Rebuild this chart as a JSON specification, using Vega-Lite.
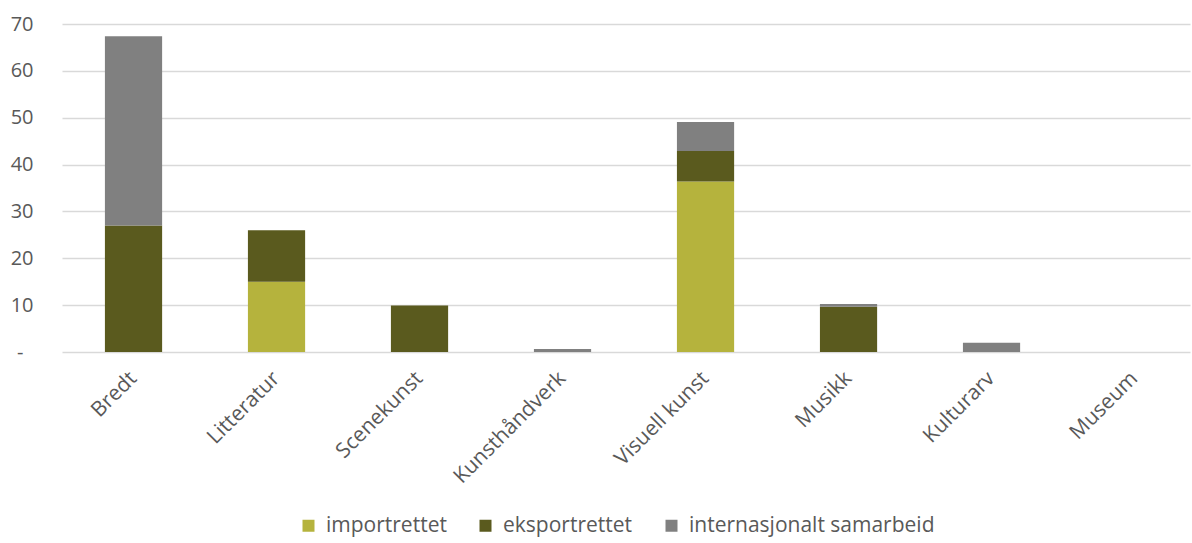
{
  "$schema": "https://vega.github.io/schema/vega-lite/v6.json",
  "autosize": "none",
  "width": 1128,
  "height": 328,
  "padding": {"left": 62, "top": 24, "right": 2, "bottom": 191},
  "background": "white",
  "data": {
    "values": [
      {"kategori": "Bredt", "type": "importrettet", "o": 1, "verdi": 0},
      {"kategori": "Bredt", "type": "eksportrettet", "o": 2, "verdi": 27},
      {"kategori": "Bredt", "type": "internasjonalt samarbeid", "o": 3, "verdi": 40.4},
      {"kategori": "Litteratur", "type": "importrettet", "o": 1, "verdi": 15},
      {"kategori": "Litteratur", "type": "eksportrettet", "o": 2, "verdi": 11},
      {"kategori": "Litteratur", "type": "internasjonalt samarbeid", "o": 3, "verdi": 0},
      {"kategori": "Scenekunst", "type": "importrettet", "o": 1, "verdi": 0},
      {"kategori": "Scenekunst", "type": "eksportrettet", "o": 2, "verdi": 9.9},
      {"kategori": "Scenekunst", "type": "internasjonalt samarbeid", "o": 3, "verdi": 0},
      {"kategori": "Kunsthåndverk", "type": "importrettet", "o": 1, "verdi": 0},
      {"kategori": "Kunsthåndverk", "type": "eksportrettet", "o": 2, "verdi": 0},
      {"kategori": "Kunsthåndverk", "type": "internasjonalt samarbeid", "o": 3, "verdi": 0.65},
      {"kategori": "Visuell kunst", "type": "importrettet", "o": 1, "verdi": 36.4},
      {"kategori": "Visuell kunst", "type": "eksportrettet", "o": 2, "verdi": 6.5},
      {"kategori": "Visuell kunst", "type": "internasjonalt samarbeid", "o": 3, "verdi": 6.2},
      {"kategori": "Musikk", "type": "importrettet", "o": 1, "verdi": 0},
      {"kategori": "Musikk", "type": "eksportrettet", "o": 2, "verdi": 9.65},
      {"kategori": "Musikk", "type": "internasjonalt samarbeid", "o": 3, "verdi": 0.6},
      {"kategori": "Kulturarv", "type": "importrettet", "o": 1, "verdi": 0},
      {"kategori": "Kulturarv", "type": "eksportrettet", "o": 2, "verdi": 0},
      {"kategori": "Kulturarv", "type": "internasjonalt samarbeid", "o": 3, "verdi": 2.0},
      {"kategori": "Museum", "type": "importrettet", "o": 1, "verdi": 0},
      {"kategori": "Museum", "type": "eksportrettet", "o": 2, "verdi": 0},
      {"kategori": "Museum", "type": "internasjonalt samarbeid", "o": 3, "verdi": 0}
    ]
  },
  "config": {
    "view": {"stroke": null},
    "font": "Open Sans"
  },
  "mark": {"type": "bar"},
  "encoding": {
    "x": {
      "field": "kategori",
      "type": "nominal",
      "sort": null,
      "scale": {"paddingInner": 0.6, "paddingOuter": 0.244, "align": 0.615},
      "axis": {
        "title": null,
        "labelAngle": -45,
        "labelAlign": "right",
        "labelBaseline": "middle",
        "labelFontSize": 21,
        "labelColor": "#595959",
        "labelPadding": 23,
        "ticks": false,
        "domain": false
      }
    },
    "y": {
      "field": "verdi",
      "type": "quantitative",
      "stack": "zero",
      "scale": {"domain": [0, 70], "nice": false},
      "axis": {
        "title": null,
        "values": [0, 10, 20, 30, 40, 50, 60, 70],
        "labelExpr": "datum.value == 0 ? '-' : datum.label",
        "labelFontSize": 20,
        "labelColor": "#595959",
        "labelPadding": {"condition": {"test": "datum.value == 0", "value": 39}, "value": 29},
        "ticks": false,
        "domain": false,
        "gridColor": "#d9d9d9",
        "gridWidth": 1.5
      }
    },
    "color": {
      "field": "type",
      "type": "nominal",
      "scale": {
        "domain": ["importrettet", "eksportrettet", "internasjonalt samarbeid"],
        "range": ["#b5b33d", "#5a5a1e", "#808080"]
      },
      "legend": {
        "title": null,
        "orient": "none",
        "direction": "horizontal",
        "legendX": 236,
        "legendY": 491,
        "symbolType": "square",
        "symbolSize": 144,
        "symbolStrokeWidth": 0,
        "labelFontSize": 21,
        "labelColor": "#595959",
        "columnPadding": 28,
        "labelOffset": 7,
        "labelLimit": 400
      }
    },
    "order": {"field": "o", "type": "quantitative"}
  }
}
